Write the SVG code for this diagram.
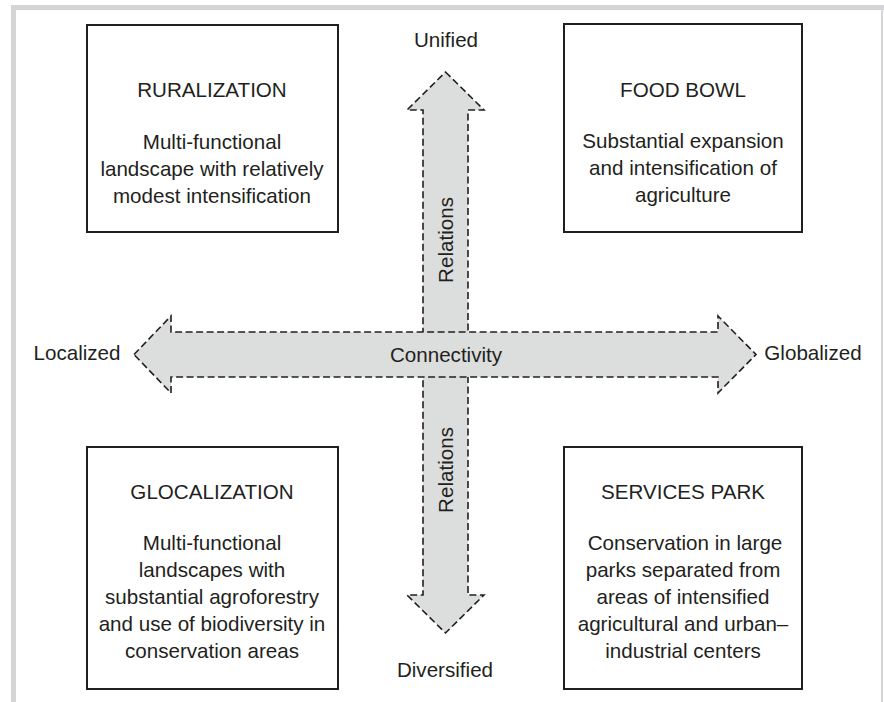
<svg xmlns="http://www.w3.org/2000/svg" width="884" height="702" viewBox="0 0 884 702">
<style>
text{font-family:"Liberation Sans",Arial,sans-serif;font-size:20.6px;fill:#231f20;text-anchor:middle}
.box{fill:#fff;stroke:#231f20;stroke-width:2}
.arrow{fill:#dcdddd;stroke:#231f20;stroke-width:1.6;stroke-dasharray:7 3.5}
.frame{fill:#d4d5d6}
</style>
<rect width="884" height="702" fill="#fff"/>
<g id="frame">
<rect class="frame" x="11" y="5" width="873" height="5"/>
<rect class="frame" x="11" y="5" width="5" height="697"/>
<rect class="frame" x="881" y="5" width="2" height="697"/>
</g>
<g id="connectors">
<path class="arrow" d="M445.5 72 L484 110 L468 110 L468 595 L484 595 L445.5 633 L407 595 L423 595 L423 110 L407 110 Z"/>
<path class="arrow" d="M134 354.5 L171 316 L171 332 L718 332 L718 316 L756 354.5 L718 393 L718 377 L171 377 L171 393 Z"/>
</g>
<g id="axis-labels">
<text x="446" y="47">Unified</text>
<text x="445" y="677">Diversified</text>
<text x="77" y="360">Localized</text>
<text x="813" y="360">Globalized</text>
<text x="446" y="362">Connectivity</text>
<text transform="translate(452.5,240) rotate(-90)">Relations</text>
<text transform="translate(452.5,470) rotate(-90)">Relations</text>
</g>
<g id="ruralization">
<rect class="box" x="87" y="25" width="251" height="207"/>
<text x="212" y="97">RURALIZATION</text>
<text x="212" y="149">Multi-functional</text>
<text x="212" y="176">landscape with relatively</text>
<text x="212" y="203">modest intensification</text>
</g>
<g id="food-bowl">
<rect class="box" x="564" y="24" width="238" height="208"/>
<text x="683" y="97">FOOD BOWL</text>
<text x="683" y="148">Substantial expansion</text>
<text x="683" y="175">and intensification of</text>
<text x="683" y="202">agriculture</text>
</g>
<g id="glocalization">
<rect class="box" x="87" y="447" width="251" height="242"/>
<text x="212" y="499">GLOCALIZATION</text>
<text x="212" y="550">Multi-functional</text>
<text x="212" y="577">landscapes with</text>
<text x="212" y="604">substantial agroforestry</text>
<text x="212" y="631">and use of biodiversity in</text>
<text x="212" y="658">conservation areas</text>
</g>
<g id="services-park">
<rect class="box" x="564" y="447" width="238" height="242"/>
<text x="683" y="499">SERVICES PARK</text>
<text x="685" y="550">Conservation in large</text>
<text x="683" y="577">parks separated from</text>
<text x="683" y="604">areas of intensified</text>
<text x="683" y="631">agricultural and urban–</text>
<text x="683" y="658">industrial centers</text>
</g>
</svg>
